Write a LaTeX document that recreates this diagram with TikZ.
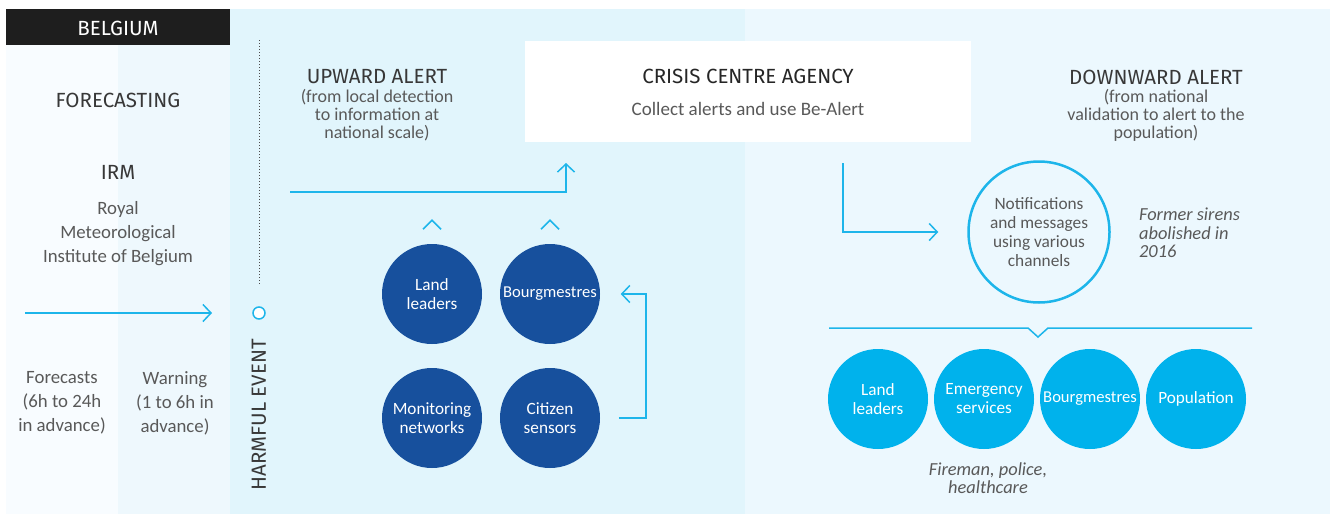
\documentclass[tikz,border=0pt]{standalone}
\usepackage{fontspec}
\setmainfont{Carlito}
\newfontfamily\headfont{Fira Sans}
\usetikzlibrary{arrows.meta,positioning}

\definecolor{darkblue}{HTML}{17509D}
\definecolor{skyblue}{HTML}{00B2EC}
\definecolor{linecyan}{HTML}{1DB5EA}
\definecolor{panelA}{HTML}{F8FCFF}
\definecolor{panelB}{HTML}{EEF8FD}
\definecolor{panelC}{HTML}{E1F5FC}
\definecolor{panelD}{HTML}{ECF8FE}
\definecolor{txtgrey}{HTML}{595959}
\definecolor{headgrey}{HTML}{383838}
\definecolor{barblack}{HTML}{1E1E1E}

\begin{document}
\begin{tikzpicture}[x=1pt,y=-1pt,>={Straight Barb[length=8pt,width=17pt]},
                    line width=1.5pt,node distance=118pt]
  \tikzstyle{heading}=[font=\headfont\fontsize{20.5}{22}\selectfont,text=headgrey]
  \tikzstyle{body}=[font=\fontsize{18.8}{24}\selectfont,text=txtgrey,align=center]
  \tikzstyle{sub}=[font=\fontsize{18}{18}\selectfont,text=txtgrey,align=center]
  \tikzstyle{remark}=[font=\itshape\fontsize{18.4}{18.5}\selectfont,text=txtgrey]
  \tikzstyle{dark}=[circle,fill=darkblue,text=white,minimum size=100pt,inner sep=0pt,
                    align=center,font=\fontsize{17.2}{19}\selectfont]
  \tikzstyle{light}=[dark,fill=skyblue]
  \tikzstyle{flow}=[->,draw=linecyan]

  \useasboundingbox (0,0) rectangle (1330,514);

  % background panels
  \fill[panelA] (6,45) rectangle (118,514);
  \fill[panelB] (118,45) rectangle (230,514);
  \fill[panelC] (230,9) rectangle (745,514);
  \fill[panelD] (745,9) rectangle (1330,514);
  \fill[barblack] (6,9) rectangle (230,45);

  % forecasting column
  \node[heading,text=white] (Country) at (118,28)  {BELGIUM};
  \node[heading]            (Fore)    at (118,100) {FORECASTING};
  \node[heading]            (IRM)     at (118,172) {IRM};
  \node[body]               (Royal)   at (118,234) {Royal\\Meteorological\\Institute of Belgium};
  \node[body]               (Fcst)    at (62,403)  {Forecasts\\(6h to 24h\\in advance)};
  \node[body]               (Warn)    at (175,403) {Warning\\(1 to 6h in\\advance)};

  \coordinate (TimeA) at (25,313);
  \coordinate (TimeB) at (212,313);
  \draw[flow] (TimeA) -- (TimeB);

  % harmful event
  \node[circle,draw=linecyan,fill=white,minimum size=12pt,inner sep=0pt] (Event) at (259,313) {};
  \coordinate (DotTop) at (259,40);
  \draw[dotted,line width=1pt,black!70] (DotTop) -- ([yshift=21pt]Event.north);
  \node[heading,rotate=90] (Harm) at (259,415) {HARMFUL EVENT};

  % upward alert
  \node[heading] (Up)    at (377,77)  {UPWARD ALERT};
  \node[sub]     (UpSub) at (377,115) {(from local detection\\to information at\\national scale)};

  \node[dark] (Land)               at (432,294) {Land\\leaders};
  \node[dark,font=\fontsize{16.6}{19}\selectfont] (Bourg) [right of=Land] {Bourgmestres};
  \node[dark] (Monitor) [below of=Land,node distance=124pt] {Monitoring\\networks};
  \node[dark] (Citizen) [right of=Monitor]      {Citizen\\sensors};

  \draw[linecyan] ([xshift=-9pt,yshift=14pt]Land.north)  -- ++(9pt,9pt) -- ++(9pt,-9pt);
  \draw[linecyan] ([xshift=-9pt,yshift=14pt]Bourg.north) -- ++(9pt,9pt) -- ++(9pt,-9pt);
  \draw[flow] ([xshift=18pt]Citizen.east) -- ++(27pt,0pt) |- ([xshift=20pt]Bourg.east);

  \coordinate (UpA) at (290,192);
  \coordinate (UpB) at (566,163);
  \draw[flow] (UpA) -| (UpB);

  % crisis centre
  \node[fill=white,minimum width=446pt,minimum height=101pt] (Crisis) at (748,91) {};
  \node[heading,text=black!85] (CrisisT) at (748,76)  {CRISIS CENTRE AGENCY};
  \node[sub,font=\fontsize{19}{19}\selectfont] (CrisisS) at (748,109) {Collect alerts and use Be-Alert};

  % downward alert
  \node[heading] (Down)    at (1156,77)  {DOWNWARD ALERT};
  \node[sub]     (DownSub) at (1156,115) {(from national\\validation to alert to the\\population)};

  \node[circle,draw=linecyan,line width=2.5pt,minimum size=141pt,inner sep=0pt,align=center,
        text=txtgrey,font=\fontsize{17.3}{19}\selectfont] (Notif) at (1039,232)
        {Notifications\\and messages\\using various\\channels};
  \node[remark,align=left,anchor=west] (Siren) at (1135,233) {Former sirens\\abolished in\\2016};

  \coordinate (DnA) at (843,163);
  \draw[flow] (DnA) |- ([xshift=-29pt]Notif.west);

  \draw[linecyan] (829,328) -- (1028,328) -- (1038,337) -- (1048,328) -- (1252,328);

  \node[light] (LandB)  at (878,399) {Land\\leaders};
  \node[light] (Emerg)  [node distance=106pt,right of=LandB] {Emergency\\services};
  \node[light,font=\fontsize{16.6}{19}\selectfont] (BourgB) [node distance=106pt,right of=Emerg] {Bourgmestres};
  \node[light] (Pop)    [node distance=106pt,right of=BourgB] {Population};
  \node[remark,align=center] (Staff) at (988,478) {Fireman, police,\\healthcare};
\end{tikzpicture}
\end{document}
